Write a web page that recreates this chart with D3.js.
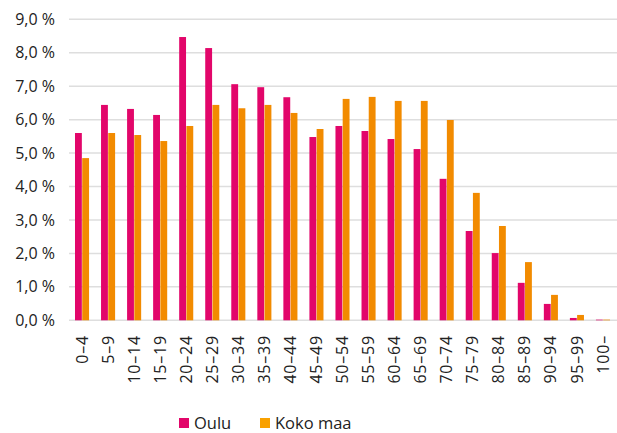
<!DOCTYPE html>
<html><head><meta charset="utf-8">
<script src="https://cdn.jsdelivr.net/npm/d3@7/dist/d3.min.js"></script>
<style>body{margin:0;background:#fff}svg{display:block}text{font-family:"Open Sans",Lato,sans-serif;fill:#222}</style>
</head><body><svg id="c" width="617" height="433"></svg>
<script>
const categories=["0–4","5–9","10–14","15–19","20–24","25–29","30–34","35–39","40–44","45–49","50–54","55–59","60–64","65–69","70–74","75–79","80–84","85–89","90–94","95–99","100–"];
const oulu=[5.60,6.44,6.32,6.14,8.47,8.14,7.06,6.97,6.67,5.48,5.81,5.66,5.42,5.12,4.23,2.67,2.01,1.12,0.49,0.07,0.02];
const kokoMaa=[4.85,5.60,5.54,5.36,5.81,6.44,6.34,6.44,6.20,5.72,6.62,6.68,6.56,6.56,5.99,3.81,2.82,1.74,0.76,0.16,0.02];
const yTicks=[0,1,2,3,4,5,6,7,8,9];
const seriesNames=["Oulu","Koko maa"];
const colors=["#E2066A","#F28B00"];
const legendColors=["#E2066A","#F9A100"];

const svg=d3.select("#c");
const m={l:69,r:1,t:19.3,b:112.7};
const W=617,H=433;
const x=d3.scaleBand().domain(categories).range([m.l,W-m.r]).paddingInner(0.46).paddingOuter(0.23);
const x1=d3.scaleBand().domain([0,1]).range([0,x.bandwidth()]).paddingInner(0.05);
const y=d3.scaleLinear().domain([0,9]).range([H-m.b,m.t]);

svg.append("g").selectAll("line").data(yTicks).join("line")
 .attr("x1",m.l).attr("x2",W).attr("y1",d=>y(d)).attr("y2",d=>y(d))
 .attr("stroke","#DEDEDE").attr("stroke-width",1.5);

svg.append("g").selectAll("text").data(yTicks).join("text")
 .attr("x",55).attr("y",d=>y(d)).attr("dy","0.35em").attr("text-anchor","end")
 .attr("font-size",16).text(d=>d.toFixed(1).replace(".",",")+" %");

const data=[oulu,kokoMaa];
data.forEach((s,si)=>{
 svg.append("g").selectAll("rect").data(categories).join("rect")
  .attr("x",(c)=>x(c)+x1(si)).attr("width",x1.bandwidth())
  .attr("y",(c,i)=>y(s[i])).attr("height",(c,i)=>y(0)-y(s[i]))
  .attr("fill",colors[si]);
});

svg.append("g").selectAll("text").data(categories).join("text")
 .attr("transform",c=>`translate(${x(c)+x.bandwidth()/2},335) rotate(-90)`)
 .attr("dy","0.35em").attr("text-anchor","end").attr("font-size",16)
 .attr("letter-spacing",0.8).text(c=>c);

const leg=[{x:179,t:seriesNames[0]},{x:260,t:seriesNames[1]}];
leg.forEach((l,i)=>{
 svg.append("rect").attr("x",l.x).attr("y",418).attr("width",10).attr("height",10).attr("fill",legendColors[i]);
 svg.append("text").attr("x",l.x+15).attr("y",423).attr("dy","0.35em").attr("font-size",16.5).text(l.t);
});
</script></body></html>
